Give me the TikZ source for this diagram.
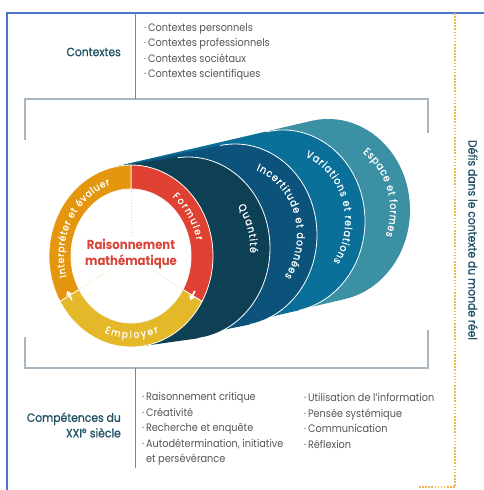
\documentclass[tikz,border=0pt]{standalone}
\usepackage{fontspec}
\setmainfont{Poppins}[FakeStretch=0.9]
\newfontfamily\medfont{Poppins}[FakeStretch=0.9, FakeBold=0.7]
\usetikzlibrary{calc,arrows.meta,decorations.text}
\definecolor{rulerblue}{HTML}{4A78C8}
\definecolor{dotorange}{HTML}{F5B54A}
\definecolor{framegrey}{HTML}{A7B6C0}
\definecolor{septeal}{HTML}{6A8A9C}
\definecolor{headteal}{HTML}{1F5064}
\definecolor{listgrey}{HTML}{555555}
\definecolor{formred}{HTML}{DF4232}
\definecolor{employyellow}{HTML}{E4B828}
\definecolor{interorange}{HTML}{E5960F}
\definecolor{quantdark}{HTML}{0E4055}
\definecolor{incertblue}{HTML}{0B537A}
\definecolor{variablue}{HTML}{0A6F99}
\definecolor{espacelight}{HTML}{3B90A3}
\definecolor{spokeyellow}{HTML}{F3D596}
\definecolor{raisonred}{HTML}{D9443A}

\tikzset{
  bluerule/.style={rulerblue, line width=1.8pt},
  dotrule/.style={dotorange, line width=1.8pt, dash pattern=on 1.6pt off 1.5pt},
  frameline/.style={framegrey, line width=1.2pt},
  sepline/.style={septeal, line width=1pt},
  layeredge/.style={white, line width=0.8pt},
  segment/.style={draw=white, line width=0.8pt},
  spoke/.style={spokeyellow, line width=0.9pt, dotted},
  flowarrow/.style={white, line width=1.8pt, -{Triangle[length=4pt,width=6pt]}},
  arclabel/.style={decorate, decoration={text along path,
      text={|\medfont\fontsize{10.5}{12}\selectfont|#1}, text align=fit to path, text color=white}},
  ringlabel/.style={decorate, decoration={text along path,
      text={|\medfont\fontsize{10}{12}\selectfont|#1}, text align=fit to path, text color=white}},
  heading/.style={headteal, font=\medfont\fontsize{12}{15.5}\selectfont, inner sep=0pt},
  listtext/.style={listgrey, font=\fontsize{10.8}{15.6}\selectfont, align=left, inner sep=0pt},
}

\begin{document}
\begin{tikzpicture}[x=1pt,y=1pt]
  \useasboundingbox (0,0) rectangle (484,490);
  \fill[white] (0,0) rectangle (484,490);

  % outer rules
  \draw[bluerule] (7,0) -- (7,477) -- (484,477);
  \draw[dotrule] (455,477) -- (455,3) -- (418,3);

  % frame round the model
  \draw[frameline] (25,350) -- (25,391) -- (428,391) -- (428,357);
  \draw[frameline] (25,153) -- (25,122) -- (428,122) -- (428,160);
  \draw[sepline] (135,477) -- (135,391);
  \draw[sepline] (135,122) -- (135,22);

  % contexts
  \node[heading, anchor=east] (ctxhead) at (121,438) {Contextes};
  \node[listtext, anchor=west] (ctxlist) at (144,438)
    {·\,Contextes personnels\\·\,Contextes professionnels\\·\,Contextes sociétaux\\·\,Contextes scientifiques};

  % skills
  \node[heading, anchor=east, align=right] (comphead) at (121,65)
    {Compétences du\\XXI\textsuperscript{e} siècle};
  \node[listtext, anchor=west] (complista) at (142,61)
    {·\,Raisonnement critique\\·\,Créativité\\·\,Recherche et enquête\\·\,Autodétermination, initiative\\\phantom{·\,}et persévérance};
  \node[listtext, anchor=west] (complistb) at (304,69)
    {·\,Utilisation de l’information\\·\,Pensée systémique\\·\,Communication\\·\,Réflexion};

  \node[heading, rotate=-90] (defis) at (473,250) {Défis dans le contexte du monde réel};

  % content layers
  \coordinate (ring) at (131,234);
  \coordinate (quant) at (188,242);
  \coordinate (incert) at (235,255);
  \coordinate (varia) at (283,269);
  \coordinate (espace) at (328,280);

  \fill[espacelight] ($(ring)+(101.9:82 and 91)$) -- ($(espace)+(101.9:82 and 91)$)
    arc[start angle=101.9, end angle=-78.1, x radius=82, y radius=91] -- ($(ring)+(-78.1:82 and 91)$) -- cycle;
  \fill[variablue] ($(ring)+(101.7:82 and 91)$) -- ($(varia)+(101.7:82 and 91)$)
    arc[start angle=101.7, end angle=-78.3, x radius=82, y radius=91] -- ($(ring)+(-78.3:82 and 91)$) -- cycle;
  \draw[layeredge] ($(varia)+(101.7:82 and 91)$) arc[start angle=101.7, end angle=-78.3, x radius=82, y radius=91];
  \fill[incertblue] ($(ring)+(100.3:82 and 91)$) -- ($(incert)+(100.3:82 and 91)$)
    arc[start angle=100.3, end angle=-79.7, x radius=82, y radius=91] -- ($(ring)+(-79.7:82 and 91)$) -- cycle;
  \draw[layeredge] ($(incert)+(100.3:82 and 91)$) arc[start angle=100.3, end angle=-79.7, x radius=82, y radius=91];
  \fill[quantdark] ($(ring)+(97.2:82 and 91)$) -- ($(quant)+(97.2:82 and 91)$)
    arc[start angle=97.2, end angle=-82.8, x radius=82, y radius=91] -- ($(ring)+(-82.8:82 and 91)$) -- cycle;
  \draw[layeredge] ($(quant)+(97.2:82 and 91)$) arc[start angle=97.2, end angle=-82.8, x radius=82, y radius=91];

  \path[arclabel={Espace et formes}] ($(espace)+(56:62 and 69)$) arc[start angle=56, end angle=-22, x radius=62, y radius=69];
  \path[arclabel={Variations et relations}] ($(varia)+(69:62 and 69)$) arc[start angle=69, end angle=-36, x radius=62, y radius=69];
  \path[arclabel={Incertitude et données}] ($(incert)+(70:62 and 69)$) arc[start angle=70, end angle=-37, x radius=62, y radius=69];
  \path[arclabel={Quantité}] ($(quant)+(37:62 and 69)$) arc[start angle=37, end angle=-4, x radius=62, y radius=69];

  % process ring
  \fill[white] (ring) ellipse[x radius=60, y radius=67];
  \filldraw[segment, fill=formred] ($(ring)+(90:82 and 91)$) arc[start angle=90, end angle=-30, x radius=82, y radius=91]
    -- ($(ring)+(-30:60 and 67)$) arc[start angle=-30, end angle=90, x radius=60, y radius=67] -- cycle;
  \filldraw[segment, fill=employyellow] ($(ring)+(-30:82 and 91)$) arc[start angle=-30, end angle=-150, x radius=82, y radius=91]
    -- ($(ring)+(-150:60 and 67)$) arc[start angle=-150, end angle=-30, x radius=60, y radius=67] -- cycle;
  \filldraw[segment, fill=interorange] ($(ring)+(210:82 and 91)$) arc[start angle=210, end angle=90, x radius=82, y radius=91]
    -- ($(ring)+(90:60 and 67)$) arc[start angle=90, end angle=210, x radius=60, y radius=67] -- cycle;

  \draw[spoke] (ring) -- ($(ring)+(90:60 and 67)$);
  \draw[spoke] (ring) -- ($(ring)+(-30:60 and 67)$);
  \draw[spoke] (ring) -- ($(ring)+(210:60 and 67)$);

  \coordinate (frmA) at (194.8,199.0);
  \coordinate (frmB) at (190.2,190.0);
  \coordinate (empA) at (71.8,190.0);
  \coordinate (empB) at (67.2,199.0);
  \draw[flowarrow] (frmA) -- (frmB);
  \draw[flowarrow] (empA) -- (empB);

  \path[ringlabel={Formuler}] ($(ring)+(52:67 and 75)$) arc[start angle=52, end angle=12, x radius=67, y radius=75];
  \path[ringlabel={Interpréter et évaluer}] ($(ring)+(196:67 and 75)$) arc[start angle=196, end angle=108, x radius=67, y radius=75];
  \path[ringlabel={Employer}] ($(ring)+(249:74 and 82)$) arc[start angle=249, end angle=292, x radius=74, y radius=82];

  \node[raisonred, fill=white, inner sep=1pt, align=center, font=\bfseries\fontsize{13}{16}\selectfont]
    (raison) at (131,236) {Raisonnement\\mathématique};
\end{tikzpicture}
\end{document}
